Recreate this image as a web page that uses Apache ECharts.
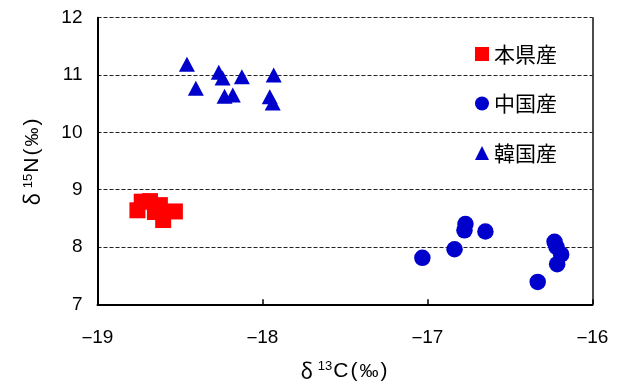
<!DOCTYPE html>
<html>
<head>
<meta charset="utf-8">
<script src="https://cdn.jsdelivr.net/npm/echarts@6/dist/echarts.min.js"></script>
<style>
  html, body { margin: 0; padding: 0; background: #fff; }
  #chart { width: 630px; height: 387px; }
</style>
</head>
<body>
<div id="chart"></div>
<script>
// δ13C / δ15N isotope values by origin
const seriesNames = ['本県産', '中国産', '韓国産'];

const honkenC = [-18.758, -18.732, -18.622, -18.652, -18.682, -18.531, -18.602];
const honkenN = [8.64, 8.79, 8.73, 8.61, 8.80, 8.62, 8.47];

const chinaC = [-17.031, -16.836, -16.770, -16.776, -16.649, -16.332, -16.230, -16.218, -16.190, -16.214];
const chinaN = [7.81, 7.96, 8.40, 8.29, 8.27, 7.39, 8.09, 8.00, 7.87, 7.70];

const koreaC = [-18.458, -18.404, -18.265, -18.242, -18.230, -18.180, -18.125, -17.932, -17.956, -17.938];
const koreaN = [11.19, 10.77, 11.05, 10.95, 10.63, 10.65, 10.97, 11.00, 10.62, 10.51];

const xTicks = [-19, -18, -17, -16];
const yTicks = [7, 8, 9, 10, 11, 12];

const pairs = (xs, ys) => xs.map((x, i) => [x, ys[i]]);

const numFont = 'Liberation Sans, Arial, sans-serif';
const jpFont = '"Noto Sans CJK JP", sans-serif';

// axis-title pieces: delta, superscript mass number, element, parentheses, per-mille
const titleRich = {
  d: { fontFamily: jpFont, fontSize: 21, color: '#000' },
  s: { fontFamily: numFont, fontSize: 13, color: '#000', padding: [0, 1, 9, 0] },
  n: { fontFamily: numFont, fontSize: 21, color: '#000' },
  q: { fontFamily: numFont, fontSize: 21, color: '#000', padding: [0, 2, 0, 2] },
  p: { fontFamily: numFont, fontSize: 19, color: '#000' }
};

const chart = echarts.init(document.getElementById('chart'), null, { renderer: 'canvas' });

chart.setOption({
  animation: false,
  backgroundColor: '#ffffff',
  grid: { left: 97.5, right: 37.5, top: 17.7, bottom: 82.7, containLabel: false },
  legend: {
    orient: 'vertical',
    left: 475,
    top: 43,
    padding: 0,
    itemWidth: 14,
    itemHeight: 14,
    itemGap: 27.5,
    data: [
      { name: seriesNames[0], icon: 'rect' },
      { name: seriesNames[1], icon: 'circle' },
      { name: seriesNames[2], icon: 'triangle' }
    ],
    textStyle: { fontFamily: jpFont, fontSize: 21, color: '#000', lineHeight: 22 }
  },
  xAxis: {
    type: 'value',
    min: xTicks[0],
    max: xTicks[xTicks.length - 1],
    interval: 1,
    name: '{d|δ }{s|13}{n|C}{q|(}{p|‰}{q|)}',
    nameLocation: 'middle',
    nameGap: 56,
    nameTextStyle: { rich: titleRich },
    axisLine: { show: true, onZero: false, lineStyle: { color: '#000', width: 2 } },
    axisTick: { show: true, inside: true, length: 5, lineStyle: { color: '#000', width: 1.5 } },
    axisLabel: {
      margin: 24,
      formatter: v => (v < 0 ? '{m|\u2212}{v|' + Math.abs(v) + '}' : '{v|' + v + '}'),
      rich: {
        m: { fontFamily: jpFont, fontSize: 19, color: '#000' },
        v: { fontFamily: numFont, fontSize: 19, color: '#000' }
      }
    },
    splitLine: { show: false }
  },
  yAxis: [
    {
      type: 'value',
      min: yTicks[0],
      max: yTicks[yTicks.length - 1],
      interval: 1,
      name: '{d|δ }{s|15}{n|N}{q|(}{p|‰}{q|)}',
      nameLocation: 'middle',
      nameGap: 54,
      nameTextStyle: { rich: titleRich },
      axisLine: { show: true, onZero: false, lineStyle: { color: '#000', width: 2 } },
      axisTick: { show: false },
      axisLabel: { margin: 15, fontFamily: numFont, fontSize: 19, color: '#000' },
      splitLine: { show: true, lineStyle: { color: '#222', width: 1, type: [4, 2] } }
    },
    {
      type: 'value',
      position: 'right',
      min: yTicks[0],
      max: yTicks[yTicks.length - 1],
      interval: 1,
      axisLine: { show: true, onZero: false, lineStyle: { color: '#111', width: 1.5 } },
      axisTick: { show: false },
      axisLabel: { show: false },
      splitLine: { show: false }
    }
  ],
  series: [
    {
      name: seriesNames[0],
      type: 'scatter',
      symbol: 'rect',
      symbolSize: 16,
      itemStyle: { color: '#ff0000', opacity: 1 },
      data: pairs(honkenC, honkenN)
    },
    {
      name: seriesNames[1],
      type: 'scatter',
      symbol: 'circle',
      symbolSize: 16.5,
      itemStyle: { color: '#0000cc', opacity: 1 },
      data: pairs(chinaC, chinaN)
    },
    {
      name: seriesNames[2],
      type: 'scatter',
      symbol: 'triangle',
      symbolSize: [16, 15],
      itemStyle: { color: '#0000cc', opacity: 1 },
      data: pairs(koreaC, koreaN)
    }
  ]
});
</script>
</body>
</html>
